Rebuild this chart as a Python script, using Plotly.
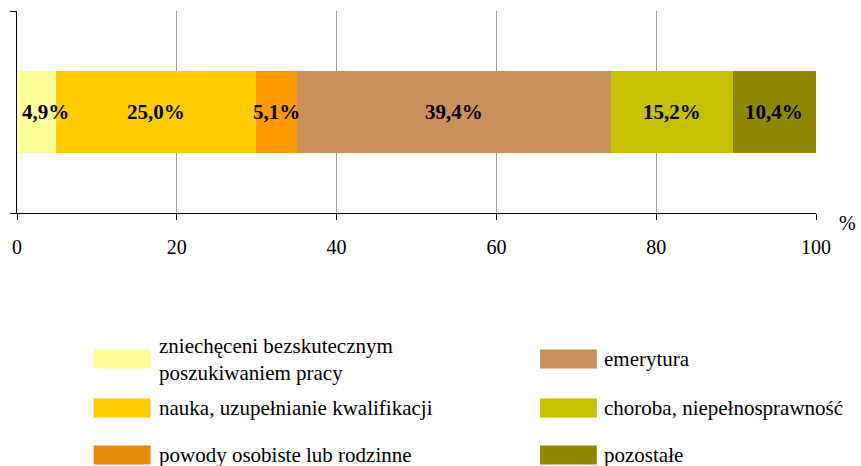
import plotly.graph_objects as go

categories = ["zniechęceni bezskutecznym<br>poszukiwaniem pracy",
              "nauka, uzupełnianie kwalifikacji",
              "powody osobiste lub rodzinne",
              "emerytura",
              "choroba, niepełnosprawność",
              "pozostałe"]
values = [4.9, 25.0, 5.1, 39.4, 15.2, 10.4]
labels = ["4,9%", "25,0%", "5,1%", "39,4%", "15,2%", "10,4%"]
bar_colors = ["#FFFF99", "#FFCC00", "#FF9900", "#C8905A", "#C6C000", "#8C8800"]
legend_colors = ["#FFFF99", "#FFCC00", "#E88A0A", "#C8905A", "#C6C000", "#8C8800"]
x_ticks = [0, 20, 40, 60, 80, 100]

FONT = "Liberation Serif, Times New Roman, serif"
fig = go.Figure()
for cat, v, col in zip(categories, values, bar_colors):
    fig.add_trace(go.Bar(
        x=[v], y=["a"], orientation="h", name=cat,
        marker=dict(color=col, line=dict(width=0)),
        showlegend=False, hoverinfo="skip",
    ))

W, H = 861, 466
ml, mr, mt, mb = 14, 45, 11, 253
pw, ph = W - ml - mr, H - mt - mb

def px(xp):
    return (xp - ml) / pw

def py(yp):
    return 1 - (yp - mt) / ph

annotations = []
# value labels at segment centres
start = 0.0
for v, lab in zip(values, labels):
    mid = start + v / 2
    narrow = v < 5.0
    annotations.append(dict(xref="x", yref="y",
                            x=start if narrow else mid, y="a",
                            xanchor="left" if narrow else "center", xshift=3 if narrow else 0,
                            text=lab, showarrow=False, yanchor="middle",
                            font=dict(family=FONT, size=21, color="black", weight="bold")))
    start += v

# manual legend: two columns of three
col_x = [91, 539]
row_y = [359, 408, 455]
sw_w, sw_h = 57, 19
shapes = []
for i, (cat, col) in enumerate(zip(categories, legend_colors)):
    c, r = divmod(i, 3)
    x0 = col_x[c]
    yc = row_y[r]
    tx = 155 if c == 0 else 601
    shapes.append(dict(type="rect", xref="paper", yref="paper",
                       x0=px(x0), x1=px(x0 + sw_w),
                       y0=py(yc + sw_h / 2), y1=py(yc - sw_h / 2),
                       fillcolor=col, line=dict(width=0), layer="above"))
    annotations.append(dict(xref="paper", yref="paper", x=px(tx), y=py(yc),
                            text=cat, showarrow=False, xanchor="left", yanchor="middle",
                            align="left", font=dict(family=FONT, size=21, color="black")))

annotations.append(dict(xref="paper", yref="paper", x=px(848), y=py(223), text="%",
                        showarrow=False, xanchor="center", yanchor="middle",
                        font=dict(family=FONT, size=20, color="black")))

fig.update_layout(
    barmode="stack", bargap=0.594,
    width=W, height=H,
    margin=dict(l=ml, r=mr, t=mt, b=mb, pad=0),
    paper_bgcolor="white", plot_bgcolor="white",
    shapes=shapes, annotations=annotations,
    xaxis=dict(range=[0, 100], tickvals=x_ticks, ticktext=[str(t) for t in x_ticks],
               showgrid=True, gridcolor="#A0A0A0", gridwidth=1,
               showline=True, linecolor="black", linewidth=1,
               ticks="outside", ticklen=6, tickcolor="black", ticklabelstandoff=10,
               tickfont=dict(family=FONT, size=20, color="black"), zeroline=False),
    yaxis=dict(showline=True, linecolor="black", linewidth=1, ticks="outside",
               tickson="boundaries", ticklen=6, tickcolor="black",
               showticklabels=False, showgrid=False, range=[-0.5, 0.5]),
    showlegend=False,
)

fig.write_html("out.html", config={"displayModeBar": False},
               post_script="document.body.style.margin='0';")
